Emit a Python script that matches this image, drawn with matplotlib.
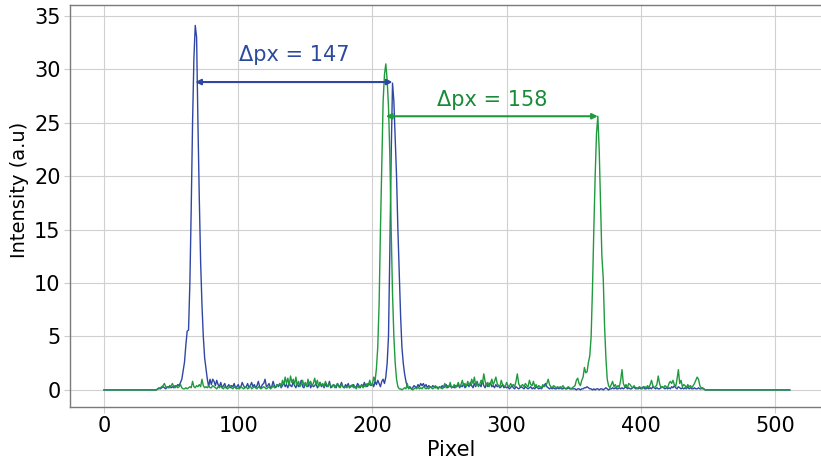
import numpy as np
import matplotlib
matplotlib.use("Agg")
import matplotlib.pyplot as plt

# ---------------- data (pixel index -> intensity), segments start at given pixel ----------------
n_pixels = 512
xticks = [0, 100, 200, 300, 400, 500]
yticks = [0, 5, 10, 15, 20, 25, 30, 35]

blue_040 = [0.1,0.2,0.1,0.2,0.3,0.2,0.1,0.3,0.2,0.4,0.2,0.3,0.2,0.4,0.3,0.5,0.4,0.7]
blue_058 = [1.0,1.8,2.6,4.2,5.5,5.6,10.0,17.0,25.0,31.0,34.1,33.0,25.0,18.0,12.0,8.0,5.0,3.0,2.0,1.0,0.3,1.0]
blue_080 = [0.5,1.0,0.8,0.4,0.9,0.5,0.3,0.7,0.2,0.4,0.6,0.2,0.3,0.5,0.2,0.4,0.3,0.6,0.2,0.3]
blue_100 = [0.5,0.2,0.3,0.7,0.4,0.2,0.3,0.6,0.2,0.4,0.7,0.3,0.5,0.2,0.4,0.8,0.3,0.2,0.5,0.6]
blue_120 = [1.0,0.3,0.4,0.6,0.2,0.3,0.8,0.4,0.2,0.5,0.3,0.6,0.2,0.4,0.7,0.3,0.5,0.2,0.6,0.4]
blue_140 = [0.3,0.8,0.4,0.2,0.6,0.3,0.5,0.9,0.3,0.2,0.6,0.4,0.3,0.7,0.2,0.5,0.3,0.4,0.6,0.2]
blue_160 = [0.4,0.7,0.3,0.5,0.2,0.6,0.3,0.4,0.8,0.2,0.3,0.5,0.4,0.2,0.6,0.3,0.4,0.7,0.3,0.2]
blue_180 = [0.5,0.3,0.6,0.2,0.4,0.3,0.5,0.2,0.3,0.6,0.4,0.2,0.5,0.3,0.7,0.4,0.3,0.6,0.5,0.4]
blue_200 = [0.6,0.3,0.8,0.5,0.9,0.6]
blue_206 = [0.3,0.8,1.0,0.6,1.2,2.5,5.0,13.0,22.0,28.7,27.0,23.5,20.0,15.0,11.0,7.0,4.0,2.5,1.5,0.8,0.3]
blue_227 = [0.2,0.3,0.1,0.2,0.4,0.3,0.2,0.5,0.3,0.6,0.4,0.6,0.3,0.5,0.2,0.4,0.3,0.2,0.4,0.3,
            0.2,0.3,0.1,0.3,0.2,0.4,0.2,0.3,0.5,0.2,0.3,0.4,0.2]
blue_260 = [0.3,0.2,0.4,0.3,0.5,0.2,0.4,0.3,0.6,0.2,0.4,0.5,0.3,0.7,0.4,0.2,0.6,0.3,0.8,0.4,
            0.5,0.3,0.9,0.4,0.2,0.6,0.3,0.5,0.7,0.3,0.4,0.2,0.5,0.3,0.4,0.2,0.3,0.5,0.2,0.3]
blue_300 = [0.2,0.3,0.1,0.2,0.4,0.2,0.1,0.3,0.2,0.1,0.2,0.3,0.2,0.1,0.3,0.2,0.1,0.2,0.3,0.1,
            0.2,0.1,0.3,0.2,0.1,0.2,0.1,0.3,0.4,0.6,0.3,0.2,0.1,0.2,0.1,0.2,0.1,0.1,0.2,0.1,
            0.2,0.1,0.1,0.2,0.1,0.1,0.2,0.1,0.1,0.1]
blue_350 = [0.1,0.1,0.0,0.1,0.1,0.0,0.1,0.1,0.2,0.2,0.3,0.2,0.1,0.1,0.0,0.1,0.0,0.1,0.1,0.0,
            0.1,0.1,0.0,0.1,0.2,0.1,0.0,0.1,0.1,0.2]
blue_380 = [0.1,0.2,0.1,0.1,0.2,0.1,0.2,0.1,0.2,0.3,0.1,0.2,0.1,0.1,0.2,0.3,0.1,0.2,0.1,0.2,
            0.1,0.2,0.3,0.1,0.1,0.2,0.1,0.2,0.1,0.3,0.2,0.1,0.2,0.1,0.1,0.2,0.3,0.2,0.1,0.2,
            0.1,0.2,0.1,0.3,0.2,0.4,0.2,0.1,0.3,0.2,0.1,0.2,0.1,0.2,0.1,0.3,0.1,0.2,0.1,0.1,
            0.2,0.1,0.1,0.2,0.1,0.1,0.2,0.1,0.0,0.0]

green_040 = [0.1,0.1,0.2,0.3,0.4,0.6,0.3,0.2,0.3,0.2,0.4,0.6,0.3,0.2,0.4,0.2,0.3,0.5,0.2,0.1]
green_060 = [0.1,0.2,0.1,0.2,0.3,0.2,0.8,0.3,0.2,0.4,0.3,0.5,0.3,1.0,0.4,0.2,0.3,0.2,0.4,0.2]
green_080 = [0.2,0.4,0.3,0.2,0.1,0.3,0.2,0.4,0.2,0.1,0.3,0.2,0.1,0.2,0.4,0.2,0.1,0.3,0.2,0.1]
green_100 = [0.2,0.1,0.3,0.2,0.1,0.2,0.3,0.1,0.2,0.4,0.1,0.2,0.3,0.2,0.1,0.3,0.2,0.1,0.2,0.3,
             0.2,0.1,0.2,0.3,0.1,0.2,0.4,0.2,0.3,0.5]
green_130 = [0.4,0.6,0.3,0.9,0.5,1.2,0.6,1.1,0.4,1.3,0.7,1.0,0.5,1.2,0.4,0.8,0.3,0.6,0.9,0.4,
             0.7,0.3,1.0,0.5,0.8,0.4,0.6,1.1,0.5,0.9,0.3,0.7,0.4,0.6,0.3,0.8,0.5,0.3,0.6,0.4,
             0.3,0.5,0.2,0.4,0.6,0.3,0.2,0.5,0.3,0.2]
green_180 = [0.3,0.2,0.4,0.2,0.3,0.5,0.2,0.3,0.1,0.4,0.2,0.3,0.5,0.2,0.4,0.3,0.6,0.4,0.9,0.5]
green_200 = [0.5,1.2,0.8,2.0,4.0,8.0,15.0,21.0,27.0,29.5,30.5,29.0,26.5,22.0,15.0,9.0,5.0,2.5,1.0,0.3,0.1]
green_221 = [0.1,0.0,0.1,0.2,0.1,0.6,0.1,0.2,0.1,0.0,0.1,0.2,0.1,0.3,0.1,0.2,0.1,0.3,0.2,0.1,
             0.2,0.1,0.3,0.2,0.1,0.2,0.4,0.2,0.1,0.3,0.2,0.1,0.3,0.6,0.2,0.4,0.3,0.7,0.2]
green_260 = [0.3,0.5,0.2,0.4,0.7,0.3,0.5,0.9,0.4,0.6,0.3,0.8,0.5,0.4,1.0,0.6,1.2,0.4,0.7,0.3,
             0.5,0.9,0.6,1.5,0.8,0.4,0.7,0.3,0.6,1.0,0.5,0.8,1.2,0.6,0.4,0.3,0.9,0.5,0.4,0.3]
green_300 = [0.7,0.4,0.3,0.6,0.4,0.5,0.3,0.8,1.5,0.6,0.3,0.4,0.5,0.3,0.6,0.4,0.3,0.9,0.5,0.4,
             0.8,0.3,0.5,0.2,0.4,0.3,0.2,0.5,0.3,0.4,0.6,1.0,0.5,0.3,0.2,0.4,0.3,0.2,0.3,0.2,
             0.3,0.2,0.4,0.2,0.1,0.2,0.3,0.2,0.1,0.2]
green_350 = [0.3,0.4,0.9,1.1,0.6,0.4,0.9,1.2,2.1,1.6,1.7,2.6,3.2,5.0,9.5,15.0,20.0,24.0,25.6,22.5,
             17.5,12.5,10.5,6.0,3.0,1.0,0.4]
green_377 = [0.2,0.5,0.8,0.3,0.5,0.2,0.4,0.3,0.9,1.9,0.6,0.3,0.5,0.2,0.6,0.5,0.3,0.2,0.4,0.2,
             0.1,0.2,0.3,0.2,0.1,0.2,0.3,0.2,0.4,0.2,0.5,0.9,0.4,0.2,0.3,0.5,1.3,0.6,0.2,0.3,
             0.2,0.4,0.3,0.2,0.6,0.8,0.6,0.9,0.5,0.3,1.0,1.9,0.6,0.9,0.3,0.5,0.4,0.2,0.5,0.3,
             0.4,0.2,0.4,0.6,0.9,1.2,1.0,0.4,0.2,0.1,0.1,0.0,0.0]

blue_segments = [(40, blue_040), (58, blue_058), (80, blue_080), (100, blue_100), (120, blue_120),
                 (140, blue_140), (160, blue_160), (180, blue_180), (200, blue_200), (206, blue_206),
                 (227, blue_227), (260, blue_260), (300, blue_300), (350, blue_350), (380, blue_380)]
green_segments = [(40, green_040), (60, green_060), (80, green_080), (100, green_100), (130, green_130),
                  (180, green_180), (200, green_200), (221, green_221), (260, green_260), (300, green_300),
                  (350, green_350), (377, green_377)]

peak_blue = (68, 215, 28.8)
peak_green = (210, 368, 25.6)


def build(segments):
    arr = np.zeros(n_pixels)
    for start, seg in segments:
        arr[start:start + len(seg)] = seg
    return arr


pixels = np.arange(n_pixels)
blue = build(blue_segments)
green = build(green_segments)

# ---------------- styling ----------------
BLUE = "#2f47a3"
GREEN = "#1f9a3d"
BLUE_TXT = "#2c4a9e"
GREEN_TXT = "#198a38"

fig = plt.figure(figsize=(8.21, 4.62), dpi=100)
ax = fig.add_axes([0.0849, 0.119, 0.93, 0.870])

ax.plot(pixels, blue, color=BLUE, lw=1.0, zorder=3)
ax.plot(pixels, green, color=GREEN, lw=1.0, zorder=3)

# keep the same data scale: 1.342 px per pixel unit
ax.set_xlim(-25.55, -25.55 + 0.93 * 821 / 1.342)
ax.set_ylim(-1.6, 36.0)
ax.set_xticks(xticks)
ax.set_yticks(yticks)
ax.grid(True, color="#d0d0d0", lw=0.8, zorder=0)
ax.set_axisbelow(True)

for s in ax.spines.values():
    s.set_color("#7a7a7a")
    s.set_linewidth(1.0)

ax.tick_params(axis="both", length=4, color="#cccccc", pad=2.5)
ax.tick_params(axis="y", labelsize=15)
ax.tick_params(axis="x", labelsize=15)

ax.set_ylabel("Intensity (a.u)", fontsize=14)
ax.yaxis.set_label_coords(-0.053, 0.54)
ax.set_xlabel("Pixel", fontsize=15, labelpad=3)

# annotations
x1, x2, yb = peak_blue
ax.annotate("", xy=(x1, yb), xytext=(x2, yb),
            arrowprops=dict(arrowstyle="<|-|>", color=BLUE, lw=1.5, mutation_scale=8,
                            shrinkA=0, shrinkB=0), zorder=4)
ax.text((x1 + x2) / 2, yb + 2.5, f"Δpx = {x2 - x1}", ha="center", va="center",
        fontsize=15, color=BLUE_TXT)

g1, g2, yg = peak_green
ax.annotate("", xy=(g1, yg), xytext=(g2, yg),
            arrowprops=dict(arrowstyle="<|-|>", color=GREEN, lw=1.5, mutation_scale=8,
                            shrinkA=0, shrinkB=0), zorder=4)
ax.text((g1 + g2) / 2, yg + 1.5, f"Δpx = {g2 - g1}", ha="center", va="center",
        fontsize=15, color=GREEN_TXT)

fig.savefig("out.png", dpi=100)
